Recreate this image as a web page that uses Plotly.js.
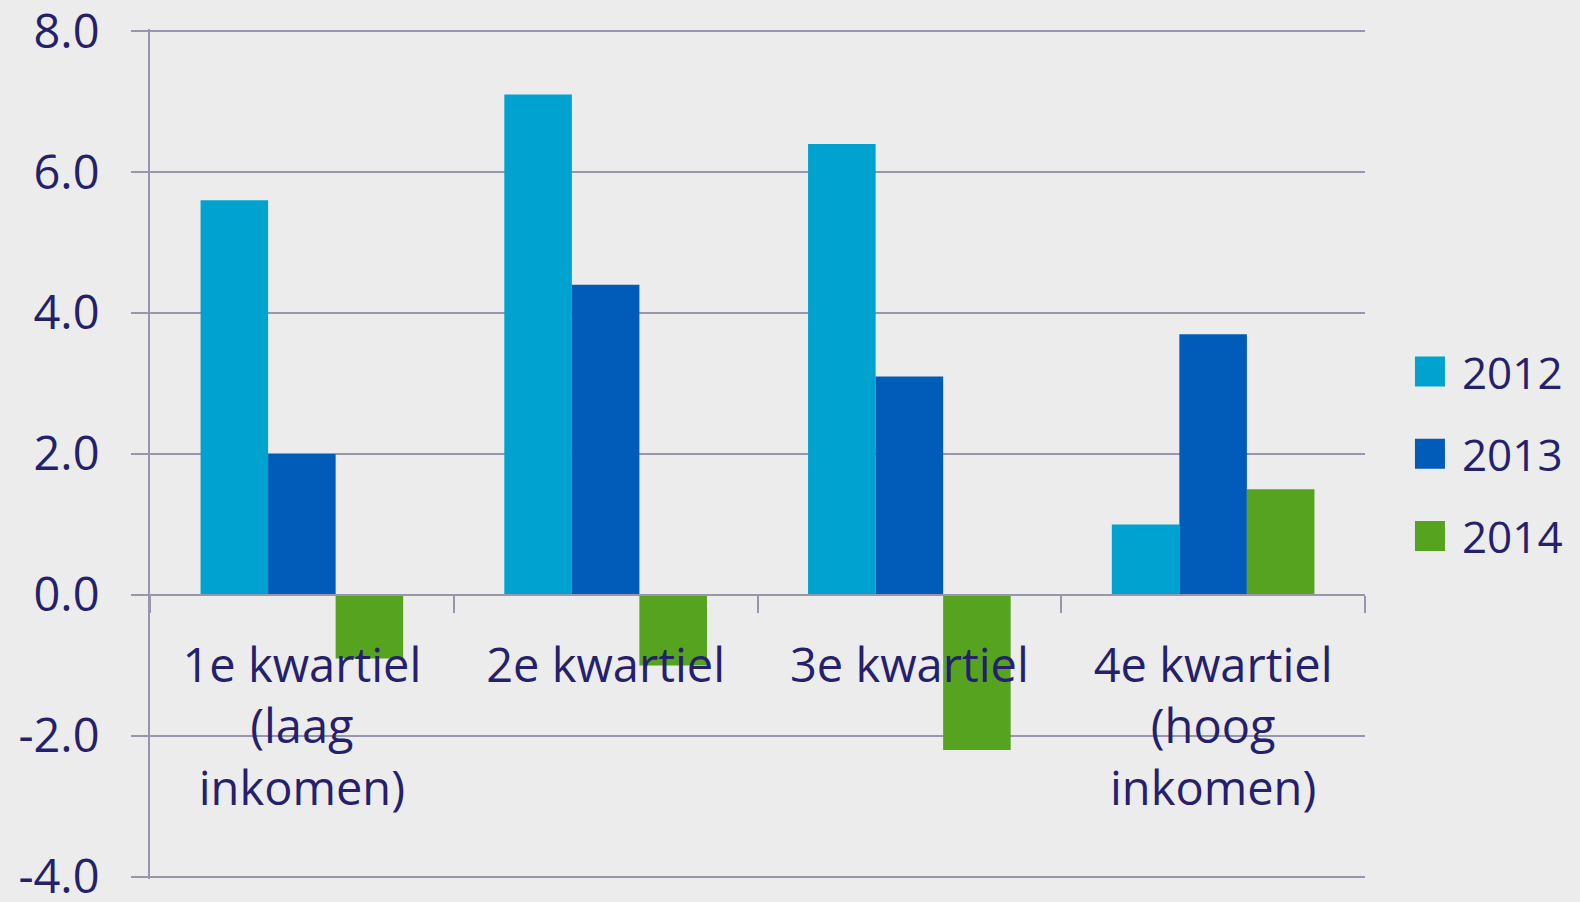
<!DOCTYPE html>
<html>
<head>
<meta charset="utf-8">
<script src="https://cdn.plot.ly/plotly-3.0.1.min.js"></script>
<style>
  html, body { margin: 0; padding: 0; background: #ececec; overflow: hidden; width: 1580px; height: 902px; }
  #chart { position: absolute; left: 0; top: -15px; width: 1580px; height: 940px; }
</style>
</head>
<body>
<div id="chart"></div>
<script>
const categories = ["1e kwartiel<br>(laag<br>inkomen)", "2e kwartiel", "3e kwartiel", "4e kwartiel<br>(hoog<br>inkomen)"];
const seriesNames = ["2012", "2013", "2014"];
const values2012 = [5.6, 7.1, 6.4, 1.0];
const values2013 = [2.0, 4.4, 3.1, 3.7];
const values2014 = [-0.9, -1.0, -2.2, 1.5];
const yTicks = [-4, -2, 0, 2, 4, 6, 8];
const yTickLabels = ["-4.0", "-2.0", "0.0", "2.0", "4.0", "6.0", "8.0"];

const colors = ["#00a3cf", "#005bb9", "#55a31e"];
const textColor = "#261f6e";
const gridColor = "#9896ad";
const fontFamily = "'Open Sans', sans-serif";

const allValues = [values2012, values2013, values2014];
const traces = seriesNames.map((name, i) => ({
  type: "bar",
  name: name,
  x: categories,
  y: allValues[i],
  marker: { color: colors[i], line: { width: 0 } },
  legendgroup: name,
  hoverinfo: "skip"
}));

const layout = {
  width: 1580,
  height: 940,
  paper_bgcolor: "#ececec",
  plot_bgcolor: "#ececec",
  margin: { l: 150, r: 215, t: 44, b: 46, pad: 0 },
  barmode: "group",
  bargap: 0.333,
  bargroupgap: 0,
  font: { family: fontFamily, color: textColor, size: 44 },
  showlegend: true,
  legend: {
    x: 1.037, xanchor: "left",
    y: 0.50, yanchor: "middle",
    bgcolor: "rgba(0,0,0,0)",
    font: { family: fontFamily, size: 44, color: textColor },
    tracegroupgap: 22,
    itemwidth: 42,
    itemclick: false, itemdoubleclick: false
  },
  xaxis: {
    type: "category",
    anchor: "free",
    position: 4.03 / 12.06,
    showline: true,
    linecolor: gridColor,
    linewidth: 2,
    ticks: "outside",
    tickson: "boundaries",
    ticklen: 17,
    tickwidth: 2,
    tickcolor: gridColor,
    showgrid: false,
    tickfont: { family: fontFamily, size: 47, color: textColor },
    ticklabelstandoff: 30,
    automargin: false,
    fixedrange: true
  },
  yaxis: {
    range: [-4.03, 8.03],
    tickvals: yTicks,
    ticktext: yTickLabels,
    showline: true,
    linecolor: gridColor,
    linewidth: 2,
    ticks: "outside",
    ticklen: 17,
    tickwidth: 2,
    tickcolor: gridColor,
    showgrid: true,
    gridcolor: gridColor,
    gridwidth: 2,
    zeroline: true,
    zerolinecolor: gridColor,
    zerolinewidth: 2,
    tickfont: { family: fontFamily, size: 47, color: textColor },
    ticklabelstandoff: 22,
    automargin: false,
    fixedrange: true
  }
};

Plotly.newPlot("chart", traces, layout, { displayModeBar: false, staticPlot: true }).then(() => {
  document.querySelectorAll("#chart .legend .legendpoints path").forEach(p => {
    p.setAttribute("d", "M9,15H-21V-15H9Z");
  });
});
</script>
</body>
</html>
